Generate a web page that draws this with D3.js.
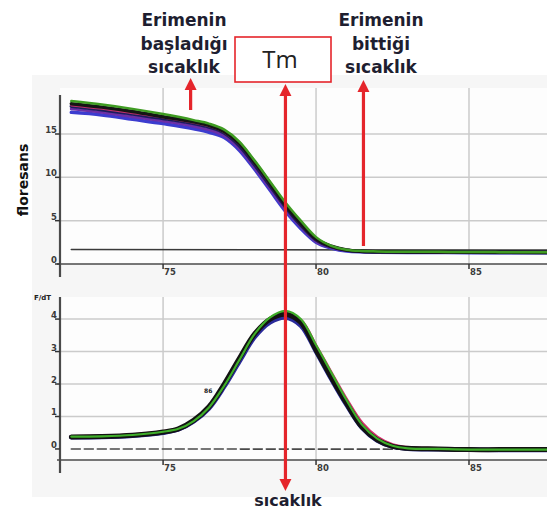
<!DOCTYPE html>
<html>
<head>
<meta charset="utf-8">
<script src="https://cdn.jsdelivr.net/npm/d3@7"></script>
<style>
  html, body { margin: 0; padding: 0; background: #ffffff; }
  svg { display: block; }
</style>
</head>
<body>
<svg id="chart" width="547" height="513"></svg>
<script>
// ---- Melting curve (fluorescence vs temperature) ----
const meltTemps = [72, 73, 74, 75, 76, 76.5, 77, 77.5, 78, 78.5, 79, 79.5, 80, 80.5, 81, 81.5, 82, 83, 84, 85, 86, 87.55];
const meltBlue   = [17.5, 17.2, 16.7, 16.2, 15.6, 15.2, 14.6, 13.1, 10.9, 8.5, 6.1, 4.1, 2.5, 1.85, 1.5, 1.4, 1.36, 1.33, 1.32, 1.3, 1.3, 1.3];
const meltPurple = [17.9, 17.5, 17.0, 16.5, 15.9, 15.5, 14.8, 13.3, 11.1, 8.7, 6.3, 4.3, 2.6, 1.9, 1.55, 1.42, 1.38, 1.35, 1.33, 1.32, 1.32, 1.32];
const meltNavy   = [18.2, 17.8, 17.3, 16.8, 16.2, 15.8, 15.1, 13.6, 11.4, 9.0, 6.6, 4.5, 2.8, 2.0, 1.6, 1.45, 1.4, 1.38, 1.36, 1.35, 1.34, 1.33];
const meltBlack  = [18.5, 18.1, 17.6, 17.0, 16.4, 16.0, 15.3, 13.9, 11.7, 9.3, 6.8, 4.7, 2.9, 2.05, 1.62, 1.47, 1.42, 1.39, 1.38, 1.36, 1.35, 1.34];
const meltGreen  = [18.8, 18.4, 17.9, 17.3, 16.6, 16.2, 15.5, 14.1, 11.9, 9.5, 7.1, 5.0, 3.1, 2.1, 1.65, 1.5, 1.45, 1.4, 1.4, 1.38, 1.37, 1.36];
const meltRed    = [18.3, 17.9, 17.4, 16.9, 16.3, 15.9, 15.2, 13.8, 11.6, 9.2, 6.8, 4.6, 2.85, 2.0, 1.6, 1.45, 1.4, 1.38, 1.36, 1.36, 1.36, 1.36];
// control trace with no melting transition
const meltControlTemps = [72, 87.55];
const meltControl = [1.68, 1.6];

// ---- Derivative curve (-dF/dT vs temperature) ----
const derivTemps = [72, 73, 74, 75, 75.5, 76, 76.5, 77, 77.5, 78, 78.5, 79, 79.5, 80, 80.5, 81, 81.5, 82, 82.5, 83, 84, 85, 86, 87.55];
const derivRed    = [0.37, 0.38, 0.42, 0.52, 0.61, 0.86, 1.27, 1.96, 2.76, 3.5, 3.98, 4.15, 3.95, 3.15, 2.32, 1.5, 0.78, 0.35, 0.12, 0.03, 0.0, -0.02, -0.02, -0.02];
const derivBlue   = [0.36, 0.37, 0.41, 0.5, 0.6, 0.85, 1.25, 1.92, 2.7, 3.45, 3.9, 4.05, 3.8, 3.0, 2.15, 1.35, 0.65, 0.26, 0.07, 0.01, -0.01, -0.02, -0.03, -0.03];
const derivBlack  = [0.37, 0.38, 0.42, 0.52, 0.62, 0.88, 1.3, 2.0, 2.8, 3.55, 4.0, 4.15, 3.9, 3.05, 2.2, 1.4, 0.68, 0.28, 0.08, 0.02, 0.0, -0.02, -0.02, -0.02];
const derivGreen  = [0.38, 0.39, 0.43, 0.53, 0.62, 0.86, 1.28, 1.95, 2.75, 3.55, 4.05, 4.25, 4.0, 3.2, 2.35, 1.5, 0.75, 0.32, 0.1, 0.02, 0.0, -0.02, -0.02, -0.02];
const derivControlTemps = [72, 87.55];
const derivControl = [0.0, -0.01];

// ---- Axes ----
const xTicks = [75, 80, 85];
const xTickLabels = ["75", "80", "85"];
const meltYTicks = [0, 5, 10, 15];
const meltYTickLabels = ["0", "5", "10", "15"];
const derivYTicks = [0, 1, 2, 3, 4];
const derivYTickLabels = ["0", "1", "2", "3", "4"];

// ---- Annotations ----
const tmTemp = 79.0;
const meltStartTemp = 75.9;
const meltEndTemp = 81.55;
const startLabel = ["Erimenin", "başladığı", "sıcaklık"];
const endLabel = ["Erimenin", "bittiği", "sıcaklık"];
const tmLabel = "Tm";
const yTitle = "floresans";
const xTitle = "sıcaklık";
const derivUnit = "F/dT";
const curveTag = "86";

const svg = d3.select("#chart");
const RED = "#e5252b";
const TEXT = "#1e1e30";
const GRID = "#cbcbcb";
const AXIS = "#4a4a4a";

// panel backdrop
svg.append("rect").attr("x", 32).attr("y", 75).attr("width", 515).attr("height", 422).attr("fill", "#f6f6f6");

const x = d3.scaleLinear().domain([71.63, 87.55]).range([60, 547]);
const yMelt = d3.scaleLinear().domain([0, 19.5]).range([264, 95]);
const yDeriv = d3.scaleLinear().domain([-0.34, 4.68]).range([460, 297]);

function panel(y, yTicks, top, bottom, gridTop) {
  const g = svg.append("g");
  g.append("rect").attr("x", 60).attr("y", gridTop).attr("width", 487).attr("height", bottom - gridTop).attr("fill", "#fdfdfd");
  // vertical grid
  g.selectAll("line.vg").data(xTicks).join("line")
    .attr("x1", d => x(d)).attr("x2", d => x(d))
    .attr("y1", gridTop).attr("y2", bottom)
    .attr("stroke", GRID).attr("stroke-width", 1.5);
  // horizontal grid (zero is drawn by the trace/axis)
  g.selectAll("line.hg").data(yTicks.filter(d => d !== 0)).join("line")
    .attr("x1", 60).attr("x2", 547)
    .attr("y1", d => y(d)).attr("y2", d => y(d))
    .attr("stroke", GRID).attr("stroke-width", 1.5);
  return g;
}

function axes(y, yTicks, yLabels, top, bottom) {
  const g = svg.append("g");
  g.append("line").attr("x1", 57).attr("x2", 547).attr("y1", bottom).attr("y2", bottom)
    .attr("stroke", AXIS).attr("stroke-width", 1.6);
  g.append("line").attr("x1", 60).attr("x2", 60).attr("y1", top).attr("y2", bottom + 13)
    .attr("stroke", AXIS).attr("stroke-width", 2.2);
  g.selectAll("line.xt").data(xTicks).join("line")
    .attr("x1", d => x(d)).attr("x2", d => x(d))
    .attr("y1", bottom).attr("y2", bottom + 5)
    .attr("stroke", "#333").attr("stroke-width", 1.5);
  g.selectAll("text.xl").data(xTicks).join("text")
    .attr("x", d => x(d) + 1).attr("y", bottom + 11)
    .attr("font-family", "DejaVu Sans").attr("font-size", 8.5).attr("font-weight", "bold")
    .attr("fill", "#3a3a3a")
    .text((d, i) => xTickLabels[i]);
  g.selectAll("line.yt").data(yTicks).join("line")
    .attr("x1", 55).attr("x2", 60)
    .attr("y1", d => y(d)).attr("y2", d => y(d))
    .attr("stroke", "#333").attr("stroke-width", 1.5);
  g.selectAll("text.yl").data(yTicks).join("text")
    .attr("x", 57).attr("y", d => y(d) - 1)
    .attr("text-anchor", "end")
    .attr("font-family", "DejaVu Sans").attr("font-size", 8.5).attr("font-weight", "bold")
    .attr("fill", "#3a3a3a")
    .text((d, i) => yLabels[i]);
}

function trace(temps, vals, y, color, width, curve, dash) {
  const line = d3.line().x((d, i) => x(temps[i])).y(d => y(d)).curve(curve);
  svg.append("path").datum(vals).attr("d", line)
    .attr("fill", "none").attr("stroke", color).attr("stroke-width", width)
    .attr("stroke-linejoin", "round").attr("stroke-linecap", "round")
    .attr("stroke-dasharray", dash || null);
}

// ---- top panel ----
panel(yMelt, meltYTicks, 95, 264, 88);
trace(meltControlTemps, meltControl, yMelt, "#3a3a3a", 1.6, d3.curveLinear);
trace(meltTemps, meltBlue, yMelt, "#3c3ccf", 3.5, d3.curveMonotoneX);
trace(meltTemps, meltPurple, yMelt, "#6b2fa6", 3, d3.curveMonotoneX);
trace(meltTemps, meltNavy, yMelt, "#1b1b5e", 3.5, d3.curveMonotoneX);
trace(meltTemps, meltRed, yMelt, "#c0306a", 2, d3.curveMonotoneX);
trace(meltTemps, meltBlack, yMelt, "#151515", 3.5, d3.curveMonotoneX);
trace(meltTemps, meltGreen, yMelt, "#3f9c22", 2.5, d3.curveMonotoneX);
axes(yMelt, meltYTicks, meltYTickLabels, 95, 264);

// ---- bottom panel ----
panel(yDeriv, derivYTicks, 297, 460, 297);
trace(derivControlTemps, derivControl, yDeriv, "#4a4a4a", 1.6, d3.curveLinear, "9,4");
trace(derivTemps, derivRed, yDeriv, "#d0306a", 4, d3.curveCatmullRom);
trace(derivTemps, derivBlue, yDeriv, "#2a2a9a", 4.5, d3.curveCatmullRom);
trace(derivTemps, derivBlack, yDeriv, "#121212", 5, d3.curveCatmullRom);
trace(derivTemps, derivGreen, yDeriv, "#3fae2a", 2.2, d3.curveCatmullRom);
axes(yDeriv, derivYTicks, derivYTickLabels, 297, 460);

svg.append("text").attr("x", 34).attr("y", 300)
  .attr("font-family", "DejaVu Sans").attr("font-size", 7).attr("font-weight", "bold")
  .attr("fill", "#222").text(derivUnit);
svg.append("text").attr("x", 204).attr("y", 393)
  .attr("font-family", "DejaVu Sans").attr("font-size", 6).attr("font-weight", "bold")
  .attr("fill", "#222").text(curveTag);

// ---- y title ----
svg.append("text")
  .attr("transform", "translate(28,180) rotate(-90)")
  .attr("text-anchor", "middle")
  .attr("font-family", "DejaVu Sans").attr("font-size", 14).attr("font-weight", "bold")
  .attr("fill", "#111").text(yTitle);

// ---- arrows ----
function arrowHead(cx, tipY, dir) {
  // dir = -1 points up, +1 points down
  const h = 12, w = 6;
  svg.append("path")
    .attr("d", `M${cx},${tipY} L${cx - w},${tipY - dir * h} L${cx + w},${tipY - dir * h} Z`)
    .attr("fill", RED);
}
function vArrow(cx, y1, y2, headTop, headBottom) {
  svg.append("line").attr("x1", cx).attr("x2", cx)
    .attr("y1", y1 + (headTop ? 8 : 0)).attr("y2", y2 - (headBottom ? 8 : 0))
    .attr("stroke", RED).attr("stroke-width", 3.2);
  if (headTop) arrowHead(cx, y1, -1);
  if (headBottom) arrowHead(cx, y2, 1);
}
vArrow(x(meltStartTemp), 78, 110, true, false);
vArrow(x(meltEndTemp), 80, 246, true, false);
vArrow(x(tmTemp), 84, 491, true, true);

// ---- Tm box ----
svg.append("rect").attr("x", 235).attr("y", 37).attr("width", 96).attr("height", 45)
  .attr("fill", "#ffffff").attr("stroke", RED).attr("stroke-width", 1.6);
svg.append("text").attr("x", 280).attr("y", 68).attr("text-anchor", "middle")
  .attr("font-family", "Open Sans").attr("font-size", 24)
  .attr("fill", "#222").text(tmLabel);

// ---- column labels ----
function stack(lines, cx) {
  svg.append("g").selectAll("text").data(lines).join("text")
    .attr("x", cx).attr("y", (d, i) => 26 + i * 23.5)
    .attr("text-anchor", "middle")
    .attr("font-family", "DejaVu Sans").attr("font-size", 17).attr("font-weight", "bold")
    .attr("fill", TEXT).text(d => d);
}
stack(startLabel, 184);
stack(endLabel, 381);

svg.append("text").attr("x", 288).attr("y", 506).attr("text-anchor", "middle")
  .attr("font-family", "DejaVu Sans").attr("font-size", 16).attr("font-weight", "bold")
  .attr("fill", TEXT).text(xTitle);
</script>
</body>
</html>
